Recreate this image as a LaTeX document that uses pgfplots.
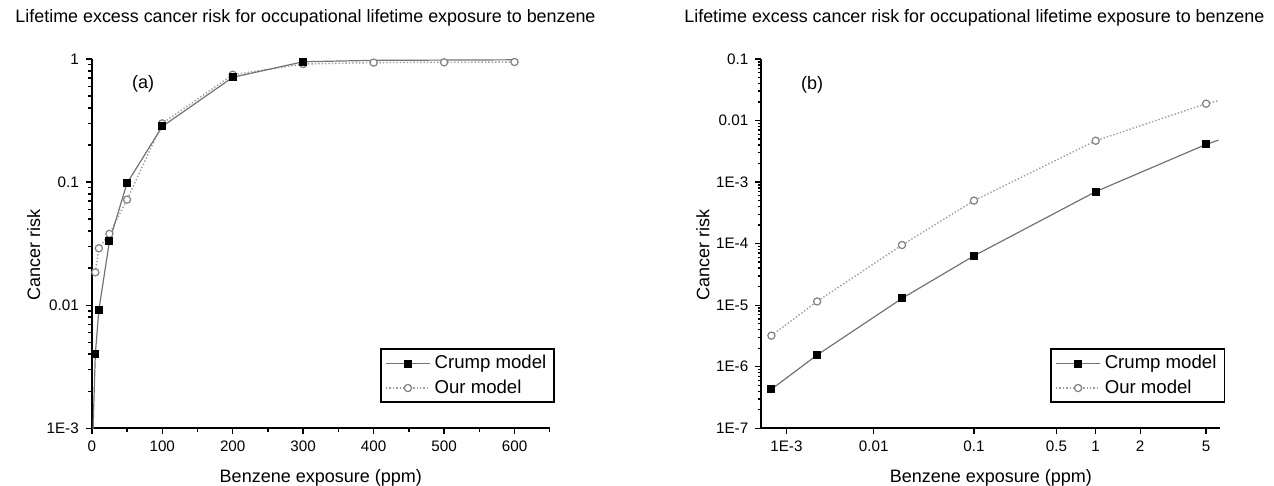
\documentclass[border=0pt]{standalone}
\usepackage{pgfplots}
\pgfplotsset{compat=1.18}
\usepackage{fontspec}
\setmainfont{Liberation Sans}

\definecolor{crumpline}{gray}{0.45}
\definecolor{ourline}{gray}{0.62}
\definecolor{ourmark}{gray}{0.50}

\pgfplotsset{
 benz/.style={
  scale only axis,
  anchor=south west,
  axis x line*=bottom, axis y line*=left,
  axis line style={-, line width=0.9pt},
  tick align=outside,
  major tick length=3pt, minor tick length=1.8pt,
  every tick/.style={black, line width=0.7pt},
  tick label style={font=\fontsize{7.6}{9}\selectfont},
  label style={font=\fontsize{9}{11}\selectfont},
  /pgf/number format/assume math mode=true,
  legend style={draw=black, line width=0.9pt, fill=white,
    font=\fontsize{9.3}{11}\selectfont,
    at={(0.63,0.068)}, anchor=south west,
    inner xsep=2pt, inner ysep=1pt, row sep=0pt,
    /tikz/every even column/.append style={column sep=2pt}},
  legend cell align=left,
  reverse legend,
  legend image code/.code={\draw[mark repeat=2, mark phase=2, #1] plot coordinates {(0pt,0pt) (11pt,0pt) (22pt,0pt)};},
  ylabel style={at={(axis description cs:-0.127,0.469)}, anchor=center},
  xlabel style={at={(axis description cs:0.5,-0.135)}, anchor=center},
  xlabel={Benzene exposure (ppm)},
  ylabel={Cancer risk},
 },
 crump/.style={color=crumpline, line width=0.6pt, mark=square*, mark size=1.7pt,
   mark options={solid, draw=black, fill=black}},
 crumpext/.style={color=crumpline, line width=0.6pt, forget plot},
 our/.style={color=ourline, line width=0.7pt, densely dotted, mark=*, mark size=1.8pt,
   mark options={solid, draw=ourmark, fill=white, line width=0.6pt}},
 ourext/.style={color=ourline, line width=0.7pt, densely dotted, forget plot},
}

\begin{document}
\begin{tikzpicture}
\path[use as bounding box] (0,0) rectangle (637pt,243pt);

\node[font=\fontsize{8.95}{10}\selectfont] at (152.75pt,234pt)
  {Lifetime excess cancer risk for occupational lifetime exposure to benzene};
\node[font=\fontsize{8.95}{10}\selectfont] at (487.2pt,234pt)
  {Lifetime excess cancer risk for occupational lifetime exposure to benzene};

% ---------------- (a) ----------------
\begin{axis}[benz, ymode=log,
  at={(45.9pt,28.85pt)}, width=229pt, height=184.65pt,
  xmin=0, xmax=650, ymin=1e-3, ymax=1,
  xtick={0,100,200,300,400,500,600},
  minor xtick={50,150,250,350,450,550,650},
  ytick={1e-3,0.01,0.1,1},
  yticklabels={1E-3,0.01,0.1,1},
]
\addplot[our] coordinates {
 (5,0.0185) (10,0.029) (25,0.038) (50,0.072) (100,0.30)
 (200,0.745) (300,0.91) (400,0.935) (500,0.94) (600,0.945)};
\addlegendentry{Our model}
\addplot[ourext] coordinates {(600,0.945) (605,0.95)};
\addplot[crumpext] coordinates {(1,0.0007) (5,0.004)};
\addplot[crumpext] coordinates {(300,0.95) (400,0.975) (500,0.98) (600,0.985)};
\addplot[crump] coordinates {
 (5,0.004) (10,0.0091) (25,0.033) (50,0.098) (100,0.283)
 (200,0.71) (300,0.95)};
\addlegendentry{Crump model}
\node[font=\fontsize{9}{11}\selectfont] at (axis cs:73,0.63) {(a)};
\end{axis}

% ---------------- (b) ----------------
% x positions on the printed (non-uniform) exposure scale:
% 1E-3 -> 0, 0.01 -> 87.3, 0.1 -> 187.6, 0.5 -> 270.1, 1 -> 309.3, 2 -> 353.8, 5 -> 419.7
\begin{axis}[benz, ymode=log,
  at={(380.65pt,28.85pt)}, width=229.5pt, height=184.65pt,
  xmin=-25.1, xmax=433.9, ymin=1e-7, ymax=0.1,
  xtick={0,87.3,187.6,270.1,309.3,353.8,419.7},
  xticklabels={1E-3,0.01,0.1,0.5,1,2,5},
  ytick={1e-7,1e-6,1e-5,1e-4,1e-3,0.01,0.1},
  yticklabels={1E-7,1E-6,1E-5,1E-4,1E-3,0.01,0.1},
]
\addplot[our] coordinates {
 (-15,3.2e-6) (30.7,1.15e-5) (115.6,9.5e-5) (187.6,5.0e-4) (309.3,4.7e-3) (419.7,0.0188)};
\addlegendentry{Our model}
\addplot[ourext] coordinates {(419.7,0.0188) (431,0.0208)};
\addplot[crump] coordinates {
 (-15,4.3e-7) (30.7,1.55e-6) (115.6,1.29e-5) (187.6,6.35e-5) (309.3,7.0e-4) (419.7,4.1e-3)};
\addlegendentry{Crump model}
\addplot[crumpext] coordinates {(419.7,4.1e-3) (432,4.8e-3)};
\node[font=\fontsize{9}{11}\selectfont] at (axis cs:25.6,0.038) {(b)};
\end{axis}
\end{tikzpicture}
\end{document}
